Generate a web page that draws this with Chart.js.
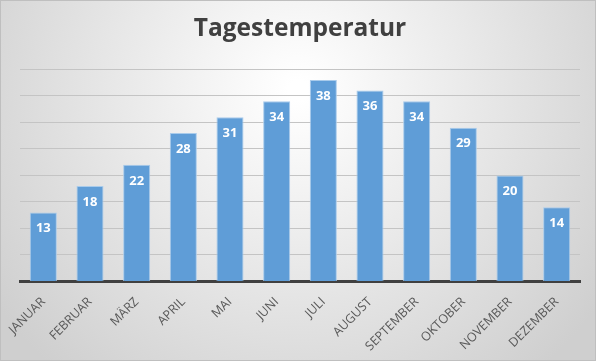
<!DOCTYPE html>
<html>
<head>
<meta charset="utf-8">
<script src="https://cdn.jsdelivr.net/npm/chart.js@4"></script>
<style>
  html, body { margin: 0; padding: 0; background: #fff; }
  #wrap { width: 596px; height: 361px; position: relative; }
</style>
</head>
<body>
<div id="wrap"><canvas id="c" width="596" height="361"></canvas></div>
<script>
// monthly values
var months = ['JANUAR', 'FEBRUAR', 'MÄRZ', 'APRIL', 'MAI', 'JUNI', 'JULI', 'AUGUST', 'SEPTEMBER', 'OKTOBER', 'NOVEMBER', 'DEZEMBER'];
var temps = [13, 18, 22, 28, 31, 34, 38, 36, 34, 29, 20, 14];
var titleText = 'Tagestemperatur';

// grey radial background like the office chart
var bgPlugin = {
  id: 'bg',
  beforeDraw: function (chart) {
    var ctx = chart.ctx;
    var w = chart.width, h = chart.height;
    ctx.save();
    var g = ctx.createRadialGradient(w / 2, h * 0.25, 10, w / 2, h * 0.25, w * 0.62);
    g.addColorStop(0, '#ffffff');
    g.addColorStop(1, '#cfcfcf');
    ctx.fillStyle = g;
    ctx.fillRect(0, 0, w, h);
    ctx.strokeStyle = '#bfbfbf';
    ctx.lineWidth = 1;
    ctx.strokeRect(0.5, 0.5, w - 1, h - 1);
    ctx.restore();
  }
};

// white value labels inside the bar tops
var valuePlugin = {
  id: 'values',
  afterDatasetsDraw: function (chart) {
    var ctx = chart.ctx;
    var meta = chart.getDatasetMeta(0);
    ctx.save();
    ctx.fillStyle = '#ffffff';
    ctx.font = 'bold 13px "Open Sans"';
    ctx.textAlign = 'center';
    ctx.textBaseline = 'middle';
    meta.data.forEach(function (bar, i) {
      ctx.fillText(temps[i], bar.x, bar.y + 16);
    });
    ctx.restore();
  }
};

new Chart(document.getElementById('c'), {
  type: 'bar',
  data: {
    labels: months,
    datasets: [{
      data: temps,
      backgroundColor: '#5f9dd7',
      borderColor: '#a9cbeb',
      borderWidth: 1,
      categoryPercentage: 1,
      barPercentage: 0.58
    }]
  },
  options: {
    responsive: false,
    animation: false,
    layout: { padding: { left: 20, right: 16, top: 12, bottom: 2 } },
    plugins: {
      legend: { display: false },
      tooltip: { enabled: false },
      title: {
        display: true,
        text: titleText,
        color: '#404040',
        font: { family: 'Open Sans', size: 24.5, weight: 'bold' },
        padding: { top: 2, bottom: 26 }
      }
    },
    scales: {
      y: {
        min: 0,
        max: 40,
        ticks: { stepSize: 5, display: false },
        grid: { color: '#c4c4c4', drawTicks: false },
        border: { display: false }
      },
      x: {
        grid: { display: false },
        border: { color: '#404040', width: 3 },
        ticks: {
          color: '#595959',
          font: { family: 'Open Sans', size: 12.5 },
          minRotation: 45,
          maxRotation: 45,
          padding: 5
        }
      }
    }
  },
  plugins: [bgPlugin, valuePlugin]
});
</script>
</body>
</html>
